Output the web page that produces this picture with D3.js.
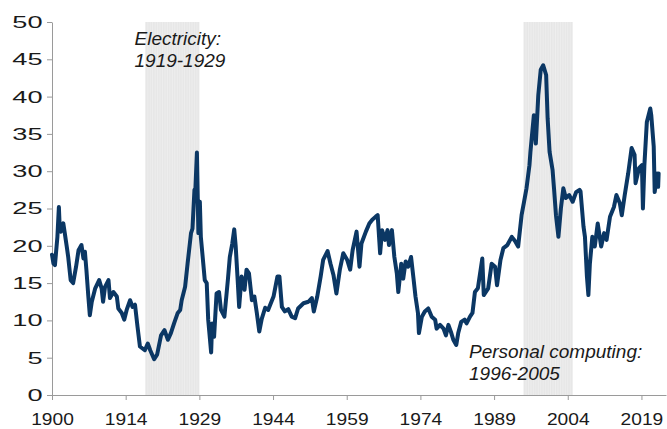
<!DOCTYPE html>
<html>
<head>
<meta charset="utf-8">
<script src="https://cdn.jsdelivr.net/npm/d3@7"></script>
<style>
  body { margin: 0; background: #fff; }
  svg { display: block; font-family: "Liberation Sans", Arial, sans-serif; }
</style>
</head>
<body>
<div class="cape-chart"></div>
<script>
// CAPE readings, fractional year -> value
const years = [
	1900.0, 1900.3, 1900.6, 1901.1, 1901.4, 1901.6, 1901.8, 1902.3, 1902.6, 1903.0,
	1903.3, 1903.8, 1904.3, 1904.9, 1905.4, 1906.0, 1906.4, 1906.7, 1907.0, 1907.4,
	1907.7, 1908.1, 1908.8, 1909.6, 1910.1, 1910.4, 1910.8, 1911.5, 1911.8, 1912.5,
	1913.2, 1913.5, 1914.2, 1914.7, 1915.2, 1915.9, 1916.4, 1916.9, 1917.4, 1917.9,
	1918.9, 1919.5, 1920.0, 1920.8, 1921.4, 1922.2, 1922.9, 1923.6, 1924.2, 1924.9,
	1925.6, 1926.1, 1926.4, 1927.1, 1927.6, 1928.3, 1928.6, 1929.0, 1929.2, 1929.5,
	1929.8, 1930.1, 1930.3, 1930.8, 1931.1, 1931.5, 1931.8, 1932.4, 1932.6, 1933.0,
	1933.5, 1934.0, 1934.4, 1935.1, 1935.8, 1936.2, 1936.7, 1937.1, 1937.4, 1937.8,
	1938.1, 1938.6, 1939.2, 1939.6, 1940.1, 1940.7, 1941.2, 1941.7, 1942.2, 1942.7,
	1943.4, 1944.0, 1945.1, 1945.9, 1946.3, 1946.8, 1947.4, 1948.1, 1948.8, 1949.5,
	1950.1, 1951.2, 1952.2, 1952.9, 1953.3, 1954.0, 1954.7, 1955.2, 1956.1, 1956.7,
	1957.3, 1957.9, 1958.6, 1959.3, 1960.1, 1960.7, 1961.2, 1962.0, 1962.6, 1963.0,
	1963.9, 1964.6, 1965.2, 1965.9, 1966.3, 1966.8, 1967.2, 1967.8, 1968.3, 1968.6,
	1969.2, 1969.7, 1970.2, 1970.5, 1971.1, 1971.5, 1972.0, 1972.5, 1973.1, 1973.6,
	1974.0, 1974.5, 1974.7, 1975.3, 1975.9, 1976.6, 1977.3, 1978.0, 1978.3, 1979.0,
	1979.7, 1980.2, 1980.7, 1981.2, 1981.7, 1982.3, 1982.7, 1983.3, 1984.0, 1984.4,
	1985.1, 1985.6, 1986.1, 1986.7, 1987.6, 1987.9, 1988.8, 1989.5, 1990.2, 1990.6,
	1991.3, 1991.9, 1992.7, 1993.6, 1994.3, 1994.9, 1995.6, 1996.1, 1996.6, 1997.2,
	1997.4, 1998.1, 1998.5, 1999.0, 1999.5, 2000.0, 2000.6, 2000.9, 2001.3, 2001.9,
	2002.2, 2002.6, 2003.1, 2003.6, 2004.1, 2004.6, 2005.3, 2006.0, 2006.7, 2007.4,
	2007.6, 2008.2, 2008.5, 2008.9, 2009.2, 2009.5, 2010.0, 2010.5, 2011.1, 2011.8,
	2012.4, 2012.9, 2013.6, 2014.4, 2014.9, 2015.6, 2016.0, 2016.6, 2017.3, 2018.0,
	2018.6, 2018.8, 2019.5, 2020.1, 2020.3, 2020.6, 2021.1, 2021.8, 2022.0, 2022.5,
	2022.7, 2023.2, 2023.4, 2023.5
];
const cape = [
	18.8, 17.6, 17.4, 21.2, 25.2, 22.0, 21.9, 23.0, 21.7, 19.9,
	18.5, 15.4, 15.0, 17.2, 19.4, 20.1, 18.3, 19.2, 16.8, 13.2,
	10.7, 12.5, 14.3, 15.4, 14.3, 12.5, 14.5, 15.4, 13.0, 13.8,
	13.2, 11.6, 11.0, 10.1, 11.4, 12.7, 11.8, 12.1, 9.2, 6.5,
	6.0, 6.9, 6.0, 4.8, 5.4, 8.0, 8.7, 7.4, 8.3, 9.7,
	11.0, 11.4, 12.7, 14.5, 17.6, 21.7, 22.3, 27.5, 27.7, 32.5,
	21.7, 25.9, 21.2, 17.6, 15.4, 15.0, 10.1, 5.7, 9.6, 7.8,
	13.6, 13.8, 11.4, 10.5, 15.4, 18.5, 20.3, 22.2, 19.9, 15.4,
	11.8, 15.9, 14.1, 16.8, 16.3, 12.7, 13.2, 11.0, 8.5, 10.2,
	11.7, 11.4, 13.2, 15.9, 15.9, 11.8, 11.2, 11.5, 10.5, 10.3,
	11.6, 12.3, 12.5, 13.0, 11.2, 13.2, 15.9, 18.1, 19.3, 17.6,
	16.1, 13.6, 16.8, 19.0, 18.1, 16.8, 19.4, 21.9, 17.2, 20.3,
	21.9, 23.0, 23.5, 23.9, 24.1, 19.0, 22.1, 20.8, 22.1, 20.1,
	22.1, 18.5, 16.3, 13.8, 17.6, 15.6, 17.9, 17.2, 18.5, 15.6,
	13.2, 11.0, 8.3, 10.5, 11.2, 11.6, 10.5, 10.1, 8.9, 9.4,
	8.9, 8.0, 9.4, 8.5, 7.4, 6.7, 8.3, 9.8, 10.1, 9.6,
	10.5, 11.0, 13.8, 14.3, 18.3, 13.4, 14.3, 17.6, 17.2, 14.7,
	18.1, 19.7, 20.1, 21.2, 20.6, 19.9, 24.1, 25.9, 27.7, 30.8,
	32.6, 37.5, 33.7, 40.2, 43.6, 44.2, 42.9, 37.1, 32.6, 30.2,
	27.7, 24.1, 21.2, 25.0, 27.7, 26.4, 26.8, 25.9, 27.2, 27.5,
	27.3, 22.6, 21.2, 15.9, 13.4, 17.6, 21.2, 19.9, 23.0, 19.9,
	21.7, 20.8, 23.9, 25.2, 26.8, 25.7, 24.1, 26.8, 29.7, 33.1,
	32.2, 28.4, 30.4, 30.8, 25.0, 30.8, 36.6, 38.4, 37.5, 33.3,
	27.2, 29.7, 27.9, 29.7
];

// shaded eras
const eraStart = [1919, 1996];
const eraEnd = [1930, 2006];
const eraTitle = ["Electricity:", "Personal computing:"];
const eraRange = ["1919-1929", "1996-2005"];

// x tick labels (every 15 years)
const tickYears = [1900, 1915, 1930, 1945, 1960, 1975, 1990, 2005, 2020];
const tickLabels = ["1900", "1914", "1929", "1944", "1959", "1974", "1989", "2004", "2019"];

const draw = () => {
	const W = 667, H = 429;
	const margin = { top: 22, right: 1, bottom: 34, left: 52 };

	const x = d3.scaleLinear().domain([1900, 2025]).range([margin.left, W - margin.right]);
	const y = d3.scaleLinear().domain([0, 50]).range([H - margin.bottom, margin.top]);

	const svg = d3.select(".cape-chart")
		.append("svg")
		.attr("width", W)
		.attr("height", H);

	// shaded eras, with faint stripes
	const eras = svg.append("g");
	eraStart.forEach((s, i) => {
		eras.append("rect")
			.attr("x", x(s))
			.attr("y", y(50))
			.attr("width", x(eraEnd[i]) - x(s))
			.attr("height", y(0) - y(50))
			.attr("fill", "#e7e7e7");
		eras.selectAll(null)
			.data(d3.range(s + 0.5, eraEnd[i], 0.5))
			.enter()
			.append("line")
			.attr("x1", (d) => x(d))
			.attr("x2", (d) => x(d))
			.attr("y1", y(50))
			.attr("y2", y(0))
			.attr("stroke", "#f1f1f1")
			.attr("stroke-width", 0.6);
	});

	const styleAxis = (g) => {
		g.select(".domain").attr("stroke", "#9a9a9a");
		g.selectAll(".tick line").attr("stroke", "#9a9a9a");
		g.selectAll(".tick text")
			.attr("fill", "#1a1a1a")
			.style("font-size", "17px")
			.style("font-family", '"Liberation Sans", Arial, sans-serif');
	};

	// x axis (labels a little wide, like the source)
	svg.append("g")
		.attr("transform", "translate(0," + y(0) + ")")
		.call(d3.axisBottom(x)
			.tickValues(tickYears)
			.tickFormat((d, i) => tickLabels[i])
			.tickSize(5)
			.tickPadding(13)
			.tickSizeOuter(0))
		.call(styleAxis)
		.call((g) => g.selectAll(".tick text").attr("transform", "scale(1.13,1)"));

	// y axis (labels stretched wide)
	const ySx = 1.6;
	svg.append("g")
		.attr("transform", "translate(" + margin.left + ",0)")
		.call(d3.axisLeft(y)
			.tickValues(d3.range(0, 51, 5))
			.tickSize(5)
			.tickPadding(4)
			.tickSizeOuter(0))
		.call(styleAxis)
		.call((g) => g.selectAll(".tick text")
			.attr("x", -9.5 / ySx)
			.attr("transform", "scale(" + ySx + ",1)"));

	// the CAPE line
	const pts = years.map((yr, i) => [yr, cape[i]]);
	svg.append("path")
		.datum(pts)
		.attr("fill", "none")
		.attr("stroke", "#0b3764")
		.attr("stroke-width", 4)
		.attr("stroke-linejoin", "round")
		.attr("stroke-linecap", "round")
		.attr("d", d3.line().x((d) => x(d[0])).y((d) => y(d[1])));

	// era notes
	const notes = [
		{ tx: x(1916.8), ty: 45 },
		{ tx: x(1984.9), ty: 358 }
	];
	notes.forEach((n, i) => {
		const t = svg.append("text")
			.attr("x", n.tx)
			.attr("y", n.ty)
			.attr("fill", "#1a1a1a")
			.style("font-size", "19px")
			.style("font-style", "italic");
		t.append("tspan").attr("x", n.tx).text(eraTitle[i]);
		t.append("tspan").attr("x", n.tx).attr("dy", 21.7).text(eraRange[i]);
	});
};

draw();
</script>
</body>
</html>
